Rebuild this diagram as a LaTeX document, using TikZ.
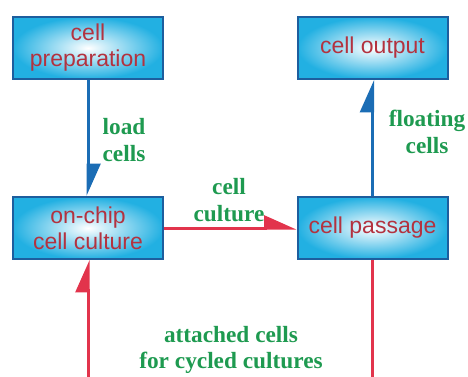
\documentclass[tikz,border=0pt]{standalone}
\usepackage{fontspec}
\setmainfont{Liberation Serif}
\newfontfamily\boxfont{Liberation Sans}
\usetikzlibrary{arrows.meta}
\definecolor{boxcyan}{HTML}{22B0E2}
\definecolor{boxedge}{HTML}{1D5E9E}
\definecolor{boxtext}{HTML}{B3323F}
\definecolor{lblgreen}{HTML}{1E9A50}
\definecolor{lineblue}{HTML}{1B6DB5}
\definecolor{linered}{HTML}{E2344C}
\begin{document}
\begin{tikzpicture}[x=1pt,y=-1pt,
  box/.style={draw=boxedge, line width=2pt, minimum width=150pt, minimum height=62pt,
    inner color=white, outer color=boxcyan, text=boxtext, align=center,
    font=\boxfont\fontsize{23}{26}\selectfont, inner sep=0pt},
  lbl/.style={text=lblgreen, align=center, font=\bfseries\fontsize{23.3}{26.5}\selectfont, inner sep=0pt},
  halftip/.style={-{Triangle[left, length=29pt, width=25pt]}},
  blueline/.style={draw=lineblue, line width=3pt, halftip},
  redline/.style={draw=linered, line width=3pt, halftip}]
\useasboundingbox (0,0) rectangle (468,376);
\clip (0,0) rectangle (468,376);

\node[box] (prep) at (88,48) {cell\\preparation};
\node[box] (output) at (372.5,48) {cell output};
\node[box] (onchip) at (88,228) {on-chip\\cell culture};
\node[box] (passage) at (372.5,228) {cell passage};

\draw[blueline] (prep) -- (onchip);
\draw[blueline] (passage) -- (output);
\draw[redline] (onchip) -- (passage);
\coordinate (loopr) at (372.5,382);
\coordinate (loopl) at (88,382);
\draw[redline] (passage.south) -- (loopr) -- (loopl) -- (onchip.south);

\node[lbl] (loadlbl) at (124,140) {load\\cells};
\node[lbl] (floatlbl) at (427,132) {floating\\cells};
\node[lbl] (culturelbl) at (229,200) {cell\\culture};
\node[lbl] (attachlbl) at (231,350) {attached cells\\for cycled cultures};
\end{tikzpicture}
\end{document}
